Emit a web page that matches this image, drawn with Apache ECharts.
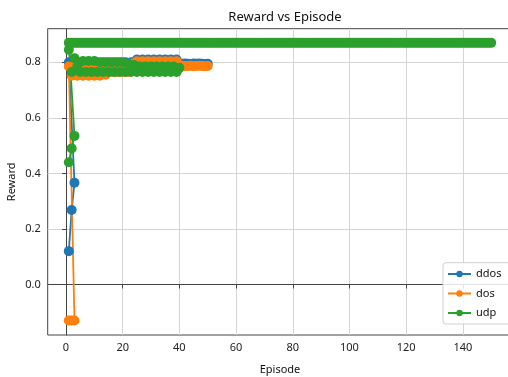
<!DOCTYPE html>
<html>
<head>
<meta charset="utf-8">
<script src="https://cdn.jsdelivr.net/npm/echarts@6/dist/echarts.min.js"></script>
<style>
  html, body { margin: 0; padding: 0; background: #fff; }
  #chart { width: 508px; height: 377px; }
</style>
</head>
<body>
<div id="chart"></div>
<script>
// Tick labels
const xTicks = [0, 20, 40, 60, 80, 100, 120, 140];
const yTicks = [0, 0.2, 0.4, 0.6, 0.8];

// ddos: short first run (episodes 1-3), then a 50-episode run
const ddosWarmup = [0.12, 0.268, 0.366];
const ddosRun = [
  0.80, 0.77, 0.80, 0.77, 0.80, 0.77, 0.80, 0.77, 0.80, 0.77,
  0.80, 0.77, 0.80, 0.77, 0.80, 0.77, 0.80, 0.77, 0.80, 0.77,
  0.80, 0.775, 0.80, 0.775, 0.81, 0.78, 0.81, 0.78, 0.81, 0.78,
  0.81, 0.78, 0.81, 0.78, 0.81, 0.78, 0.81, 0.78, 0.81, 0.78,
  0.795, 0.796, 0.795, 0.794, 0.796, 0.795, 0.796, 0.795, 0.794, 0.795
];

// dos: short first run (episodes 1-3), then a 50-episode run
const dosWarmup = [-0.13, -0.13, -0.13];
const dosRun = [
  0.785, 0.752, 0.785, 0.752, 0.785, 0.752, 0.785, 0.752, 0.785, 0.752,
  0.785, 0.752, 0.785, 0.755, 0.785, 0.765, 0.795, 0.765, 0.795, 0.765,
  0.795, 0.765, 0.795, 0.77, 0.804, 0.775, 0.804, 0.775, 0.804, 0.775,
  0.804, 0.775, 0.804, 0.775, 0.804, 0.775, 0.804, 0.775, 0.804, 0.78,
  0.788, 0.786, 0.787, 0.788, 0.786, 0.787, 0.788, 0.787, 0.786, 0.787
];

// udp: short first run, a 150-episode run, and a 40-episode run
const udpWarmup = [0.44, 0.49, 0.535];
const udpLong = [
  0.87, 0.87, 0.87, 0.87, 0.87, 0.87, 0.87, 0.87, 0.87, 0.87,
  0.87, 0.87, 0.87, 0.87, 0.87, 0.87, 0.87, 0.87, 0.87, 0.87,
  0.87, 0.87, 0.87, 0.87, 0.87, 0.87, 0.87, 0.87, 0.87, 0.87,
  0.87, 0.87, 0.87, 0.87, 0.87, 0.87, 0.87, 0.87, 0.87, 0.87,
  0.87, 0.87, 0.87, 0.87, 0.87, 0.87, 0.87, 0.87, 0.87, 0.87,
  0.87, 0.87, 0.87, 0.87, 0.87, 0.87, 0.87, 0.87, 0.87, 0.87,
  0.87, 0.87, 0.87, 0.87, 0.87, 0.87, 0.87, 0.87, 0.87, 0.87,
  0.87, 0.87, 0.87, 0.87, 0.87, 0.87, 0.87, 0.87, 0.87, 0.87,
  0.87, 0.87, 0.87, 0.87, 0.87, 0.87, 0.87, 0.87, 0.87, 0.87,
  0.87, 0.87, 0.87, 0.87, 0.87, 0.87, 0.87, 0.87, 0.87, 0.87,
  0.87, 0.87, 0.87, 0.87, 0.87, 0.87, 0.87, 0.87, 0.87, 0.87,
  0.87, 0.87, 0.87, 0.87, 0.87, 0.87, 0.87, 0.87, 0.87, 0.87,
  0.87, 0.87, 0.87, 0.87, 0.87, 0.87, 0.87, 0.87, 0.87, 0.87,
  0.87, 0.87, 0.87, 0.87, 0.87, 0.87, 0.87, 0.87, 0.87, 0.87,
  0.87, 0.87, 0.87, 0.87, 0.87, 0.87, 0.87, 0.87, 0.87, 0.87
];
const udpShort = [
  0.845, 0.765, 0.815, 0.785, 0.765, 0.805, 0.765, 0.805, 0.765, 0.805,
  0.765, 0.80, 0.765, 0.80, 0.765, 0.80, 0.765, 0.80, 0.765, 0.80,
  0.765, 0.795, 0.765, 0.79, 0.765, 0.785, 0.765, 0.785, 0.765, 0.785,
  0.765, 0.785, 0.765, 0.785, 0.765, 0.785, 0.765, 0.785, 0.765, 0.78
];

const colors = { ddos: '#1f77b4', dos: '#ff7f0e', udp: '#2ca02c' };

// Each run restarts its episode count at 1
function episodes(values) {
  return values.map((v, i) => [i + 1, v]);
}

function lineSeries(name, data) {
  return {
    name: name,
    type: 'line',
    data: data,
    symbol: 'circle',
    symbolSize: 10,
    showSymbol: true,
    lineStyle: { width: 1.8, color: colors[name] },
    itemStyle: { color: colors[name], borderWidth: 0 },
    emphasis: { disabled: true },
    silent: true
  };
}

const font = 'Noto Sans';
const chart = echarts.init(document.getElementById('chart'), null, { renderer: 'canvas' });

chart.setOption({
  animation: false,
  backgroundColor: '#ffffff',
  title: {
    text: 'Reward vs Episode',
    left: 280,
    textAlign: 'center',
    top: 6,
    textStyle: { fontFamily: font, fontSize: 13, fontWeight: 'normal', color: '#111' }
  },
  grid: {
    left: 47.7,
    top: 28.7,
    width: 464.6,
    height: 306.3,
    show: true,
    borderColor: '#444',
    borderWidth: 1,
    outerBoundsMode: 'none'
  },
  legend: {
    orient: 'vertical',
    left: 443,
    top: 262.7,
    padding: [5.3, 30, 5, 4],
    itemWidth: 23,
    itemHeight: 8,
    itemGap: 7.5,
    backgroundColor: 'rgba(255,255,255,0.85)',
    borderColor: '#d0d0d0',
    borderWidth: 1,
    borderRadius: 3,
    data: ['ddos', 'dos', 'udp'],
    textStyle: { fontFamily: font, fontSize: 11, lineHeight: 12, color: '#111' }
  },
  xAxis: {
    type: 'value',
    min: -6.45,
    max: 157.45,
    name: 'Episode',
    nameLocation: 'middle',
    nameGap: 29,
    nameMoveOverlap: false,
    nameTextStyle: { fontFamily: font, fontSize: 11, color: '#111' },
    axisLine: { show: true, lineStyle: { color: '#444', width: 1 } },
    axisTick: { show: true, inside: false, length: 4, customValues: xTicks, lineStyle: { color: '#444' } },
    axisLabel: { customValues: xTicks, margin: 7, fontFamily: font, fontSize: 11, color: '#222' },
    splitLine: { show: true, lineStyle: { color: '#d4d4d4', width: 1 } }
  },
  yAxis: {
    type: 'value',
    min: -0.182,
    max: 0.921,
    name: 'Reward',
    nameLocation: 'middle',
    nameGap: 30,
    nameMoveOverlap: false,
    nameTextStyle: { fontFamily: font, fontSize: 11, color: '#111' },
    axisLine: { show: true, lineStyle: { color: '#444', width: 1 } },
    axisTick: { show: true, inside: false, length: 4, customValues: yTicks, lineStyle: { color: '#444' } },
    axisLabel: {
      customValues: yTicks, margin: 7, fontFamily: font, fontSize: 11, color: '#222',
      formatter: v => v.toFixed(1)
    },
    splitLine: { show: true, lineStyle: { color: '#d4d4d4', width: 1 } }
  },
  series: [
    lineSeries('ddos', episodes(ddosWarmup).concat(episodes(ddosRun))),
    lineSeries('dos', episodes(dosWarmup).concat(episodes(dosRun))),
    lineSeries('udp', episodes(udpWarmup).concat(episodes(udpLong))),
    lineSeries('udp', episodes(udpShort))
  ]
});
</script>
</body>
</html>
